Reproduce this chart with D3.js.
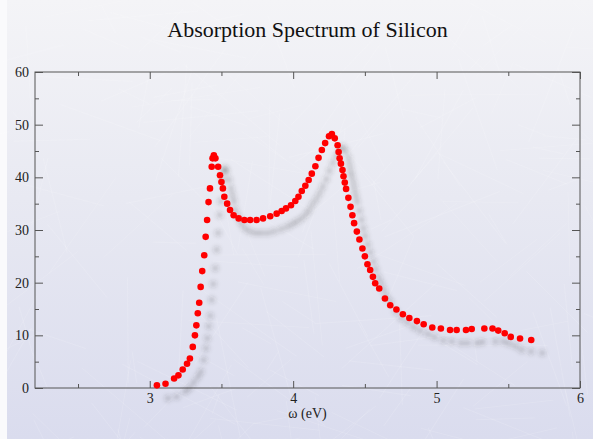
<!DOCTYPE html>
<html>
<head>
<meta charset="utf-8">
<script src="https://cdn.jsdelivr.net/npm/d3@7"></script>
<style>
  html, body { margin: 0; padding: 0; background: #fafafc; }
  svg { display: block; }
</style>
</head>
<body>
<svg id="chart"></svg>
<script>
// photon energy (eV) and absorption values
const energy = [
  3.05, 3.11, 3.17, 3.20, 3.23, 3.26, 3.28, 3.30, 3.315, 3.325, 3.335, 3.345,
  3.355, 3.366, 3.38, 3.39, 3.40, 3.41, 3.42, 3.432, 3.438, 3.447, 3.458, 3.477,
  3.49, 3.50, 3.51, 3.52, 3.54, 3.56, 3.585, 3.62, 3.66, 3.70, 3.745, 3.79,
  3.84, 3.885, 3.92, 3.95, 3.985, 4.015, 4.037, 4.06, 4.085, 4.108, 4.13,
  4.155, 4.177, 4.20, 4.223, 4.25, 4.27, 4.29, 4.31, 4.317, 4.324, 4.333,
  4.344, 4.351, 4.36, 4.369, 4.385, 4.40, 4.413, 4.425, 4.444, 4.462, 4.483,
  4.50, 4.518, 4.537, 4.556, 4.572, 4.60, 4.64, 4.677, 4.72, 4.765, 4.81,
  4.863, 4.91, 4.97, 5.03, 5.094, 5.14, 5.205, 5.245, 5.333, 5.39, 5.43,
  5.475, 5.517, 5.582, 5.66
];
const absorption = [
  0.5, 0.8, 1.8, 2.4, 3.5, 4.6, 5.6, 7.8, 10.0, 11.9, 14.2, 16.2,
  19.2, 22.2, 25.2, 28.7, 31.9, 35.3, 37.9, 42.0, 43.6, 44.2, 43.6, 42.0,
  40.4, 39.1, 37.9, 36.3, 35.0, 33.8, 32.8, 32.2, 31.9, 31.9, 31.9, 32.2,
  32.6, 33.1, 33.6, 34.1, 34.7, 35.5, 36.3, 37.4, 38.4, 39.5, 40.7,
  42.1, 43.7, 45.2, 46.5, 47.8, 48.2, 47.4, 46.1, 44.8, 43.6, 42.6,
  41.4, 40.2, 39.0, 37.8, 36.1, 34.4, 32.8, 31.3, 29.7, 28.2, 26.5,
  25.0, 23.5, 22.4, 21.1, 19.9, 18.9, 17.0, 15.7, 14.9, 14.0, 13.3,
  12.7, 12.1, 11.5, 11.3, 11.0, 11.0, 11.0, 11.2, 11.3, 11.3, 10.9,
  10.4, 9.7, 9.4, 9.1
];
const xTicks = [3, 4, 5, 6];
const xMinor = [2.5, 3.5, 4.5, 5.5];
const yTicks = [0, 10, 20, 30, 40, 50, 60];
const yMinor = [5, 15, 25, 35, 45, 55];

const width = 593, height = 439;
const margin = { top: 72, right: 13, bottom: 51, left: 35 };
const innerW = width - margin.left - margin.right;
const innerH = height - margin.top - margin.bottom;

const svg = d3.select("#chart")
    .attr("width", width)
    .attr("height", height);

const defs = svg.append("defs");
const grad = defs.append("linearGradient")
    .attr("id", "bg")
    .attr("x1", 0).attr("y1", 0).attr("x2", 0).attr("y2", 1);
grad.append("stop").attr("offset", "0%").attr("stop-color", "#f4f4f7");
grad.append("stop").attr("offset", "45%").attr("stop-color", "#e8e9f2");
grad.append("stop").attr("offset", "100%").attr("stop-color", "#dadcee");

const blur = defs.append("filter")
    .attr("id", "shadow")
    .attr("x", "-50%").attr("y", "-50%")
    .attr("width", "200%").attr("height", "200%");
blur.append("feGaussianBlur").attr("stdDeviation", 2.2);

svg.append("rect")
    .attr("x", 7).attr("y", 0)
    .attr("width", width - 7).attr("height", height)
    .attr("fill", "url(#bg)");

// faint scratchy texture
const rng = d3.randomLcg(0.42);
const scratches = svg.append("g")
    .attr("stroke", "#ffffff")
    .attr("stroke-opacity", 0.22)
    .attr("stroke-width", 0.6);
for (let i = 0; i < 220; i++) {
    const x0 = 7 + rng() * (width - 7);
    const y0 = rng() * height;
    const ang = rng() * Math.PI;
    const len = 20 + rng() * 110;
    scratches.append("line")
        .attr("x1", x0).attr("y1", y0)
        .attr("x2", x0 + Math.cos(ang) * len)
        .attr("y2", y0 + Math.sin(ang) * len);
}

const x = d3.scaleLinear().domain([2.2, 6]).range([0, innerW]);
const y = d3.scaleLinear().domain([0, 60]).range([innerH, 0]);

const g = svg.append("g")
    .attr("transform", `translate(${margin.left},${margin.top})`);

const axisColor = "#555555";
const font = "'Liberation Serif', 'Times New Roman', serif";

// frame
g.append("rect")
    .attr("width", innerW).attr("height", innerH)
    .attr("fill", "none")
    .attr("stroke", axisColor)
    .attr("stroke-width", 1);

function styleAxis(sel) {
    sel.select(".domain").remove();
    sel.selectAll(".tick line").attr("stroke", axisColor);
    sel.selectAll(".tick text")
        .attr("fill", "#222")
        .attr("font-family", font)
        .attr("font-size", 14);
}

// bottom
g.append("g").attr("transform", `translate(0,${innerH})`)
    .call(d3.axisBottom(x).tickValues(xTicks).tickFormat(d3.format("d"))
        .tickSizeInner(-7).tickPadding(5))
    .call(styleAxis);
g.append("g").attr("transform", `translate(0,${innerH})`)
    .call(d3.axisBottom(x).tickValues(xMinor).tickFormat("").tickSizeInner(-4))
    .call(styleAxis);
// top
g.append("g")
    .call(d3.axisTop(x).tickValues(xTicks).tickFormat("").tickSizeInner(-7))
    .call(styleAxis);
g.append("g")
    .call(d3.axisTop(x).tickValues(xMinor).tickFormat("").tickSizeInner(-4))
    .call(styleAxis);
// left
g.append("g")
    .call(d3.axisLeft(y).tickValues(yTicks).tickFormat(d3.format("d"))
        .tickSizeInner(-8).tickPadding(6))
    .call(styleAxis);
g.append("g")
    .call(d3.axisLeft(y).tickValues(yMinor).tickFormat("").tickSizeInner(-4))
    .call(styleAxis);
// right
g.append("g").attr("transform", `translate(${innerW},0)`)
    .call(d3.axisRight(y).tickValues(yTicks).tickFormat("").tickSizeInner(-8))
    .call(styleAxis);
g.append("g").attr("transform", `translate(${innerW},0)`)
    .call(d3.axisRight(y).tickValues(yMinor).tickFormat("").tickSizeInner(-4))
    .call(styleAxis);

const points = energy.map((e, i) => ({ e: e, a: absorption[i] }));

// drop shadow of the markers
g.append("g")
    .attr("filter", "url(#shadow)")
    .attr("transform", "translate(11,13)")
    .selectAll("circle")
    .data(points)
    .enter().append("circle")
    .attr("cx", d => x(d.e))
    .attr("cy", d => y(d.a))
    .attr("r", 3.3)
    .attr("fill", "#333")
    .attr("fill-opacity", 0.2);

g.append("g")
    .selectAll("circle")
    .data(points)
    .enter().append("circle")
    .attr("cx", d => x(d.e))
    .attr("cy", d => y(d.a))
    .attr("r", 3.3)
    .attr("fill", "#ff0000");

svg.append("text")
    .attr("x", margin.left + innerW / 2)
    .attr("y", 37)
    .attr("text-anchor", "middle")
    .attr("font-family", font)
    .attr("font-size", 22)
    .attr("fill", "#111")
    .text("Absorption Spectrum of Silicon");

svg.append("text")
    .attr("x", margin.left + innerW / 2)
    .attr("y", 418)
    .attr("text-anchor", "middle")
    .attr("font-family", font)
    .attr("font-size", 14)
    .attr("fill", "#222")
    .text("ω (eV)");
</script>
</body>
</html>
